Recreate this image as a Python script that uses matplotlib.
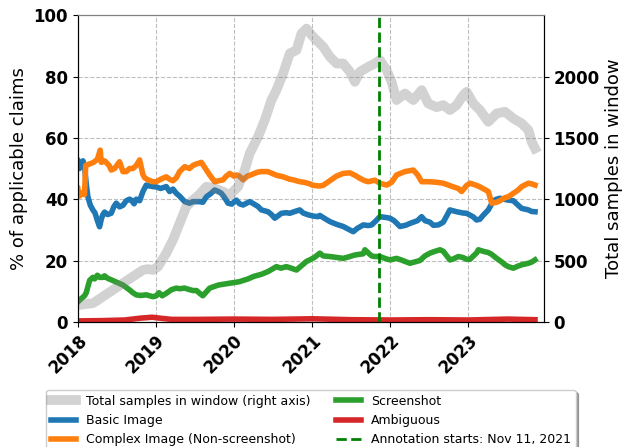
import numpy as np
import pandas as pd
import matplotlib
matplotlib.use("Agg")
import matplotlib.pyplot as plt

# ---- data (t = years since 2018-01-01) ----
complex_t = [0, 0.02, 0.05, 0.085, 0.1, 0.15, 0.2, 0.25, 0.286, 0.3, 0.342, 0.4, 0.427, 0.47, 0.534, 0.577,
             0.62, 0.662, 0.705, 0.748, 0.791, 0.833, 0.855, 0.897, 0.96, 1.004, 1.06, 1.132, 1.175, 1.218,
             1.261, 1.303, 1.368, 1.43, 1.474, 1.52, 1.582, 1.646, 1.688, 1.752, 1.8, 1.859, 1.9, 1.945, 2.0,
             2.03, 2.07, 2.116, 2.17, 2.223, 2.3, 2.351, 2.43, 2.479, 2.543, 2.629, 2.714, 2.757, 2.842, 2.9,
             2.97, 3.01, 3.1, 3.14, 3.227, 3.31, 3.398, 3.484, 3.548, 3.612, 3.676, 3.719, 3.804, 3.868, 3.954,
             4.018, 4.082, 4.189, 4.296, 4.35, 4.403, 4.5, 4.6, 4.68, 4.8, 4.87, 4.915, 4.98, 5.022, 5.107,
             5.15, 5.257, 5.3, 5.364, 5.406, 5.471, 5.513, 5.577, 5.64, 5.684, 5.77, 5.812, 5.855]
complex_v = [43.5, 41, 42, 41.5, 51, 51.5, 52, 53, 56, 52, 52.5, 51, 49.5, 50, 52.2, 49,
             49, 50, 50, 51, 52.8, 48, 47, 46.3, 45.7, 45.7, 46.5, 47.3, 46.5, 46,
             47, 49, 50.6, 50, 51, 51.5, 52, 49.5, 47.9, 45.7, 46, 46.3, 47.5, 48.4, 47.5,
             47.9, 47.5, 46.3, 47.5, 48, 48.8, 49, 49, 48.5, 47.8, 47.3, 46.5, 46.3, 45.7, 45.5,
             45, 44.5, 44.3, 44.5, 46, 47.5, 48.4, 48.6, 47.8, 46.8, 46, 45.7, 46.2, 45.2, 44.6,
             45.5, 47.9, 49, 49.5, 48, 45.7, 45.7, 45.5, 45.2, 44.1, 43.5, 42.5, 44.5, 45.2, 44.5,
             44, 42.5, 38.7, 39, 39.5, 40.5, 40.8, 41.9, 43, 44.1, 45.2, 45.0, 44.6]

basic_t = [0, 0.02, 0.043, 0.065, 0.085, 0.107, 0.128, 0.16, 0.192, 0.22, 0.25, 0.278, 0.3, 0.321, 0.342,
           0.38, 0.427, 0.46, 0.491, 0.534, 0.577, 0.62, 0.662, 0.684, 0.72, 0.748, 0.791, 0.833, 0.876,
           0.92, 0.962, 1.004, 1.06, 1.132, 1.175, 1.218, 1.261, 1.303, 1.368, 1.43, 1.474, 1.56, 1.6,
           1.646, 1.7, 1.752, 1.8, 1.838, 1.88, 1.923, 1.97, 2.03, 2.07, 2.116, 2.16, 2.201, 2.25, 2.308,
           2.35, 2.436, 2.479, 2.522, 2.56, 2.607, 2.67, 2.714, 2.78, 2.842, 2.885, 2.949, 3.013, 3.077,
           3.099, 3.142, 3.227, 3.313, 3.398, 3.48, 3.527, 3.58, 3.655, 3.719, 3.762, 3.82, 3.868, 3.954,
           3.997, 4.05, 4.125, 4.2, 4.253, 4.35, 4.403, 4.445, 4.509, 4.552, 4.616, 4.68, 4.765, 4.808,
           4.851, 4.93, 4.979, 5.065, 5.107, 5.15, 5.193, 5.257, 5.321, 5.364, 5.406, 5.45, 5.513, 5.577,
           5.64, 5.684, 5.77, 5.812, 5.855]
basic_v = [52.5, 50, 51, 52.5, 51, 45, 40.8, 38, 36.5, 35.5, 33, 31, 33.5, 35, 35.8,
           35, 35.4, 37.5, 38.7, 37.5, 38, 39.5, 40, 39.7, 38.5, 40, 39.5, 42.5, 44.6,
           44.3, 44.1, 44, 43.5, 44.1, 42.5, 43.3, 41.9, 41, 39.2, 38.7, 39.2, 39.2, 39,
           40.8, 41.8, 43, 42.5, 41.9, 40.5, 38.7, 38.4, 39.7, 38.5, 38.1, 38.7, 39.2, 38.5, 37.6,
           36.5, 35.9, 35, 33.8, 34.5, 35.4, 35.6, 35.4, 36, 36.5, 35.5, 34.9, 34.5, 34.3,
           34.7, 34, 32.7, 31.8, 31.1, 30, 29.4, 30.5, 31.6, 31.4, 31.6, 33, 34.3, 34.0,
           33.8, 33, 31.1, 31.5, 32.1, 33, 34.3, 33, 32.5, 31.5, 31.6, 32.5, 36.5, 36.2,
           35.9, 35.5, 35.4, 34.2, 33.2, 33.5, 34.8, 36.5, 39.5, 40, 40.3, 40, 39.7, 39.5,
           38, 37, 36.5, 36, 35.9]

screen_t = [0, 0.04, 0.085, 0.107, 0.15, 0.192, 0.214, 0.25, 0.28, 0.321, 0.342, 0.38, 0.427, 0.49, 0.534,
            0.577, 0.62, 0.662, 0.705, 0.748, 0.8, 0.876, 0.92, 0.962, 1.004, 1.04, 1.08, 1.132, 1.2, 1.261,
            1.303, 1.368, 1.43, 1.474, 1.52, 1.56, 1.6, 1.688, 1.8, 1.945, 2.0, 2.07, 2.18, 2.25, 2.35,
            2.436, 2.543, 2.6, 2.67, 2.72, 2.8, 2.85, 2.928, 2.97, 3.03, 3.099, 3.142, 3.227, 3.313, 3.398,
            3.484, 3.548, 3.655, 3.676, 3.719, 3.762, 3.804, 3.868, 3.954, 4.0, 4.082, 4.14, 4.2, 4.253,
            4.31, 4.381, 4.445, 4.509, 4.574, 4.638, 4.68, 4.765, 4.808, 4.872, 4.93, 4.979, 5.022, 5.107,
            5.129, 5.193, 5.257, 5.3, 5.364, 5.43, 5.471, 5.513, 5.577, 5.64, 5.684, 5.77, 5.812, 5.855]
screen_v = [6.5, 7.5, 8.5, 9.5, 13.5, 14.5, 14, 15.2, 14.5, 14.5, 15.0, 14.2, 13.7, 13, 12.5,
            12, 11.2, 10.4, 9.5, 8.8, 8.6, 8.8, 8.5, 8.2, 8.5, 9.5, 8.5, 9.3, 10.5, 11,
            10.8, 11, 10.5, 10.2, 10.2, 9.3, 8.5, 11, 12, 12.6, 12.8, 13.1, 14, 14.8, 15.5,
            16.4, 18, 17.5, 18, 17.6, 16.9, 18, 19.7, 20.2, 21, 22.4, 21.5, 21.3, 21, 20.7,
            21.3, 21.8, 22.2, 23.5, 22.5, 21.5, 21.3, 21.3, 20.5, 20.2, 20.7, 20.2, 19.6, 19.1,
            19.5, 20.0, 21.5, 22.4, 23, 23.5, 23, 20.2, 20.5, 21.3, 21, 20.4, 20.4, 22.5,
            23.5, 23, 22.6, 22, 20.7, 19.5, 18.6, 18, 17.5, 18.2, 18.6, 19.1, 19.5, 20.2]

ambig_t = [0, 0.3, 0.6, 0.8, 0.95, 1.05, 1.2, 1.5, 2.0, 2.5, 3.0, 3.5, 4.0, 4.5, 5.0, 5.5, 5.855]
ambig_v = [0.3, 0.4, 0.6, 1.2, 1.5, 1.2, 0.8, 0.8, 0.9, 0.8, 1.0, 0.7, 0.6, 0.7, 0.6, 0.9, 0.7]

total_t = [0, 0.05, 0.1, 0.192, 0.25, 0.321, 0.449, 0.577, 0.705, 0.833, 0.9, 0.962, 1.026, 1.132, 1.218,
           1.303, 1.389, 1.474, 1.56, 1.646, 1.752, 1.859, 1.945, 2.052, 2.137, 2.201, 2.308, 2.394, 2.479,
           2.543, 2.629, 2.714, 2.8, 2.864, 2.928, 2.99, 3.056, 3.142, 3.227, 3.313, 3.398, 3.484, 3.548,
           3.612, 3.719, 3.804, 3.868, 3.954, 4.018, 4.082, 4.189, 4.296, 4.403, 4.488, 4.594, 4.68, 4.765,
           4.851, 4.936, 4.979, 5.065, 5.15, 5.257, 5.364, 5.471, 5.577, 5.684, 5.77, 5.812, 5.855]
total_v = [138, 140, 145, 152, 175, 206, 260, 315, 369, 423, 430, 423, 450, 559, 668,
           803, 939, 993, 1040, 1102, 1088, 1061, 1034, 1102, 1238, 1373, 1509, 1645, 1808,
           1889, 2025, 2188, 2215, 2351, 2391, 2340, 2296, 2242, 2161, 2106, 2106, 2039, 1957,
           2039, 2079, 2106, 2134, 2052, 1957, 1808, 1862, 1808, 1889, 1780, 1750, 1767, 1726,
           1767, 1848, 1875, 1780, 1726, 1631, 1699, 1713, 1658, 1618, 1563, 1468, 1414]

annotation_date = "2021-11-11"
year_ticks = ["2018", "2019", "2020", "2021", "2022", "2023"]

start = pd.Timestamp("2018-01-01")
def to_dates(t):
    return start + pd.to_timedelta(np.asarray(t) * 365.25, unit="D")

fig = plt.figure(figsize=(6.23, 4.47), dpi=100)
ax1 = fig.add_axes([0.125, 0.280, 0.748, 0.686])
ax2 = ax1.twinx()

l_basic, = ax1.plot(to_dates(basic_t), basic_v, color="#1f77b4", lw=4, label="Basic Image")
l_complex, = ax1.plot(to_dates(complex_t), complex_v, color="#ff7f0e", lw=4, label="Complex Image (Non-screenshot)")
l_screen, = ax1.plot(to_dates(screen_t), screen_v, color="#2ca02c", lw=4, label="Screenshot")
l_ambig, = ax1.plot(to_dates(ambig_t), ambig_v, color="#d62728", lw=4, label="Ambiguous")

l_total, = ax2.plot(to_dates(total_t), total_v, color="gray", alpha=0.35, lw=7,
                    label="Total samples in window (right axis)")
l_ann = ax2.axvline(pd.Timestamp(annotation_date), color="green", ls="--", lw=2,
                    label="Annotation starts: Nov 11, 2021")

ax1.set_ylim(0, 100)
ax2.set_ylim(0, 2500)
ax1.set_xlim(pd.Timestamp("2018-01-01"), pd.Timestamp("2023-12-21"))
ax1.set_xticks([pd.Timestamp(y + "-01-01") for y in year_ticks])
ax1.set_xticklabels(year_ticks, rotation=45, ha="right", rotation_mode="anchor",
                    fontsize=12, fontweight="bold")
ax1.set_yticks([0, 20, 40, 60, 80, 100])
ax1.set_yticklabels([0, 20, 40, 60, 80, 100], fontsize=12, fontweight="bold")
ax2.set_yticks([0, 500, 1000, 1500, 2000])
ax2.set_yticklabels([0, 500, 1000, 1500, 2000], fontsize=12, fontweight="bold")
ax1.grid(True, ls="--", color="gray", alpha=0.5)
ax1.set_ylabel("% of applicable claims", fontsize=13)
ax2.set_ylabel("Total samples in window", fontsize=13)
for ax in (ax1, ax2):
    ax.spines["top"].set_color("#808080")

handles = [l_total, l_basic, l_complex, l_screen, l_ambig, l_ann]
leg = fig.legend(handles=handles, labels=[h.get_label() for h in handles], ncol=2,
                 loc="upper center", bbox_to_anchor=(0.499, 0.128), borderaxespad=0.0,
                 fontsize=9, shadow=True, frameon=True)

fig.savefig("out.png", dpi=100)
